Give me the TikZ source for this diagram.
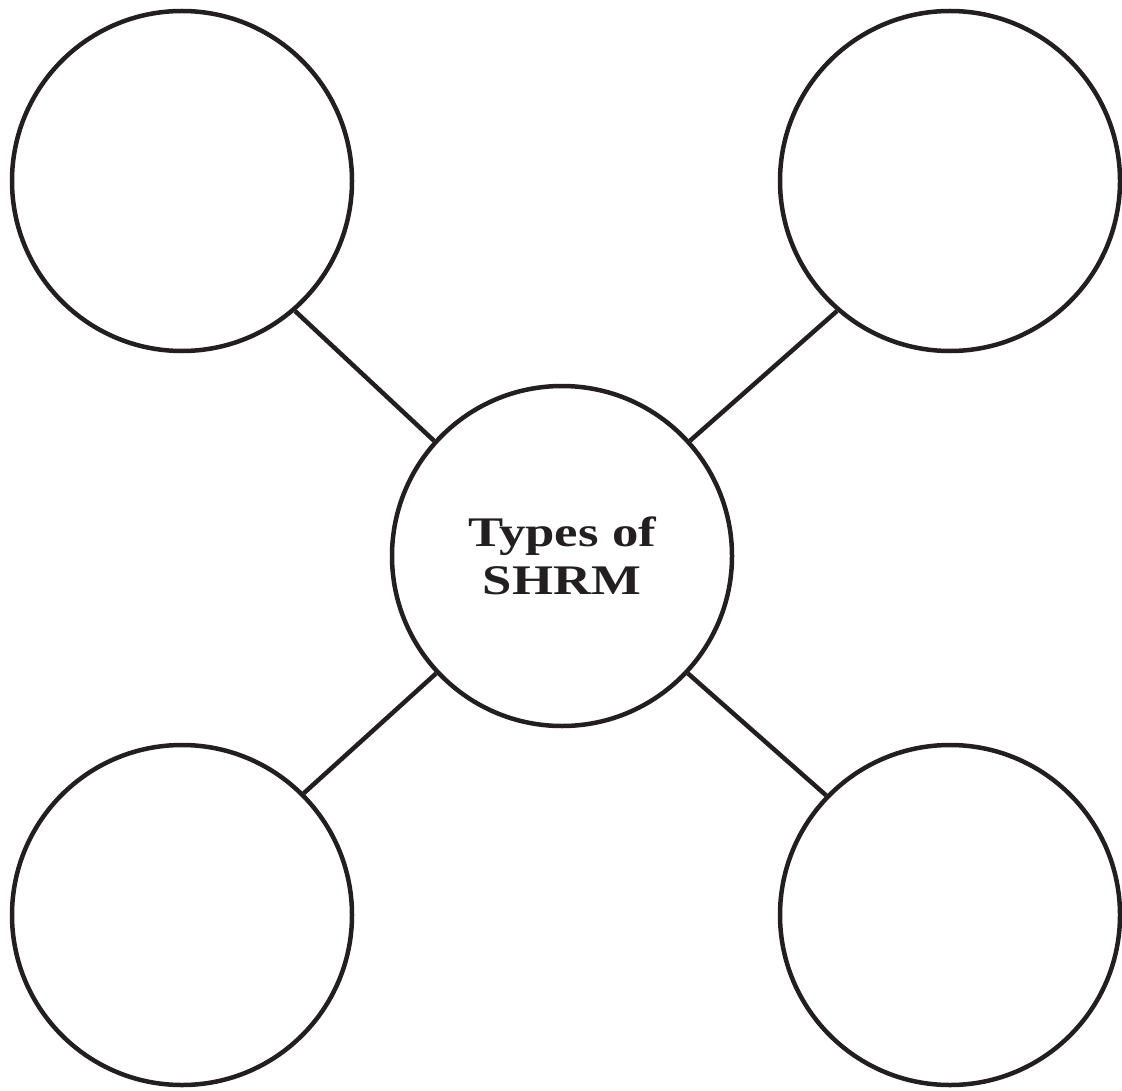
\documentclass[tikz,border=0pt]{standalone}
\usepackage{fontspec}
\setmainfont{Liberation Serif}
\newfontfamily\headfont[FakeStretch=1.25]{Liberation Serif}
\usetikzlibrary{positioning}
\definecolor{ink}{HTML}{231F20}
\begin{document}
\begin{tikzpicture}[
  bubble/.style={circle, draw=ink, line width=0.09cm, minimum size=6.8cm, inner sep=0},
  link/.style={draw=ink, line width=0.09cm}
]

% Frame
\useasboundingbox (0, 0) rectangle (22.44, -21.8);

% Centre
\node[bubble, font=\headfont\bfseries\fontsize{24}{27}\selectfont, text=ink, align=center] (core) at (11.24, -11.12) {Types of\\SHRM};

% Outer bubbles
\node[bubble] (tl) at (3.64, -3.62) {};
\node[bubble] (tr) at (19.0, -3.62) {};
\node[bubble] (bl) at (3.64, -18.3) {};
\node[bubble] (br) at (19.0, -18.3) {};

% Links
\draw[link] (tl.-49) -- (core.138);
\draw[link] (tr.-131) -- (core.42);
\draw[link] (bl.45) -- (core.-137);
\draw[link] (br.136) -- (core.-43);

\end{tikzpicture}
\end{document}
